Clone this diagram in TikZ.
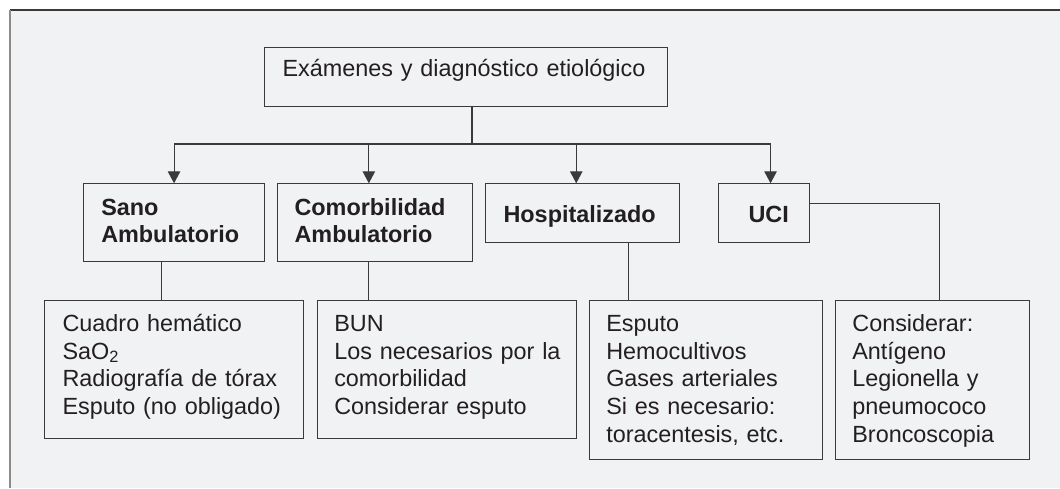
\documentclass[tikz,border=0pt]{standalone}
\usepackage{fontspec}
\setmainfont{Liberation Sans}
\usetikzlibrary{arrows.meta}
\definecolor{fondo}{HTML}{F1F2F4}
\definecolor{borde}{HTML}{3A3A3A}
\definecolor{texto}{HTML}{231F20}
\definecolor{marcoizq}{HTML}{8C8C8C}
% struts that fix the first baseline and the bottom edge of a box
\newcommand{\alto}[1]{\rule{0pt}{#1pt}}
\newcommand{\bajo}[1]{\rule[-#1pt]{0pt}{#1pt}}

\tikzset{
  caja/.style={draw=borde, line width=1.1pt, anchor=north west, inner ysep=0pt,
    align=left, text=texto, font=\fontsize{23.4}{27.7}\selectfont},
  titulo/.style={caja, font=\bfseries\fontsize{23.4}{26.7}\selectfont},
  linea/.style={draw=borde, line width=1.1pt},
  flecha/.style={linea, -{Triangle[width=12.5pt,length=12pt]}}
}

\begin{document}
\begin{tikzpicture}[x=1pt,y=-1pt]
    \useasboundingbox (0,0) rectangle (1060,488);
    \fill[white] (0,0) rectangle (1060,488);
    \fill[fondo] (10,10) rectangle (1060,488);
    \draw[borde,line width=1.1pt] (10,10) -- (1060,10);
    \draw[marcoizq,line width=1.6pt] (10,10) -- (10,488);

    % nivel 1
    \node[caja,text width=367pt,inner xsep=17.7pt] (exam) at (264.3,47.3)
      {\alto{28.7}Exámenes y diagnóstico etiológico\bajo{29.7}};

    % nivel 2
    \node[titulo,text width=145.6pt,inner xsep=17.7pt] (sano) at (83,183.3)
      {\alto{31.7}Sano\\Ambulatorio\bajo{19.3}};
    \node[titulo,text width=161.3pt,inner xsep=16.7pt] (como) at (277.3,183.3)
      {\alto{31.7}Comorbilidad\\Ambulatorio\bajo{19.3}};
    \node[titulo,text width=158.3pt,inner xsep=18pt] (hosp) at (485,183.3)
      {\alto{38.7}Hospitalizado\bajo{20}};
    \node[titulo,text width=31.3pt,inner xsep=30pt] (uci) at (718,183.3)
      {\alto{38.7}UCI\bajo{20}};

    % nivel 3
    \node[caja,text width=223.3pt,inner xsep=17.7pt] (cuadro) at (44.3,300)
      {\alto{31}Cuadro hemático\\SaO\textsubscript{2}\\Radiografía de tórax\\Esputo (no obligado)\bajo{23.9}};
    \node[caja,text width=225.3pt,inner xsep=17pt] (bun) at (316.7,300)
      {\alto{31}BUN\\\mbox{Los necesarios por la}\\comorbilidad\\Considerar esputo\bajo{23.9}};
    \node[caja,text width=199.6pt,inner xsep=16.7pt] (esputo) at (589,300)
      {\alto{31}Esputo\\Hemocultivos\\Gases arteriales\\Si es necesario:\\toracentesis, etc.\bajo{17.2}};
    \node[caja,text width=160.1pt,inner xsep=17.1pt] (consid) at (834.7,300)
      {\alto{31}Considerar:\\Antígeno\\Legionella y\\pneumococo\\Broncoscopia\bajo{17.2}};

    % conectores
    \coordinate (bus) at (472,144);
    \draw[linea] (exam.south -| bus) -- (bus);
    \draw[linea] (sano.north |- bus) -- ([xshift=6.35pt]uci.north |- bus);
    \foreach \dest/\dx in {sano/0, como/-6.35, hosp/-6.45, uci/6.35}
      \draw[flecha] ([xshift=\dx pt]\dest.north |- bus) -- ([xshift=\dx pt]\dest.north);

    \draw[linea] ([xshift=-12.5pt]sano.south) -- ([xshift=-12.5pt]sano.south |- cuadro.north);
    \draw[linea] ([xshift=-6.35pt]como.south) -- ([xshift=-6.35pt]como.south |- bun.north);
    \draw[linea] ([xshift=45.55pt]hosp.south) -- ([xshift=45.55pt]hosp.south |- esputo.north);
    \draw[linea] ([yshift=9.35pt]uci.east) -| ([xshift=6.85pt]consid.north);
\end{tikzpicture}
\end{document}
